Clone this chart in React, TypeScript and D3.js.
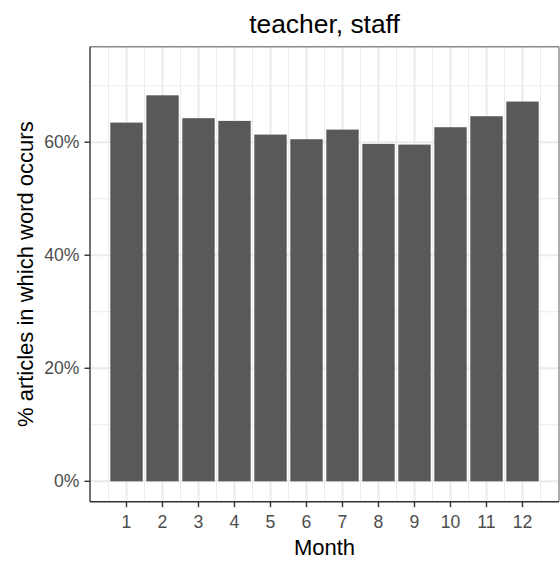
import React from "react";
import * as d3 from "d3";

const title = "teacher, staff";
const months = [1, 2, 3, 4, 5, 6, 7, 8, 9, 10, 11, 12];
const shares = [0.6347, 0.683, 0.6425, 0.6377, 0.6135, 0.6053, 0.6223, 0.597, 0.5958, 0.6265, 0.646, 0.6719];
const yTicks = [0, 0.2, 0.4, 0.6];
const yMinor = [0.1, 0.3, 0.5, 0.7];
const xMinor = [0.5, 1.5, 2.5, 3.5, 4.5, 5.5, 6.5, 7.5, 8.5, 9.5, 10.5, 11.5, 12.5];

const W = 560;
const H = 562;
const panel = { left: 90, right: 559, top: 46.7, bottom: 501.7 };
const FONT = "'Liberation Sans', Arial, sans-serif";

export default function App() {
  const x = d3.scaleLinear().domain([0, 13]).range([panel.left + 0.5, panel.right - 0.5]);
  const y = d3.scaleLinear().domain([-0.0361, 0.769]).range([panel.bottom, panel.top]);
  const barW = (x(1) - x(0)) * 0.9;
  const pct = d3.format(".0%");

  return (
    <svg width={W} height={H} style={{ position: "absolute", left: 0, top: 0, background: "#fff" }}>
      <rect x={0} y={0} width={W} height={H} fill="#fff" />
      {/* grid */}
      {yMinor.map((v) => (
        <line key={"ym" + v} x1={panel.left} x2={panel.right} y1={y(v)} y2={y(v)} stroke="#EBEBEB" strokeWidth={1} />
      ))}
      {xMinor.map((v) => (
        <line key={"xm" + v} x1={x(v)} x2={x(v)} y1={panel.top} y2={panel.bottom} stroke="#EBEBEB" strokeWidth={1} />
      ))}
      {yTicks.map((v) => (
        <line key={"yg" + v} x1={panel.left} x2={panel.right} y1={y(v)} y2={y(v)} stroke="#EBEBEB" strokeWidth={2} />
      ))}
      {months.map((m) => (
        <line key={"xg" + m} x1={x(m)} x2={x(m)} y1={panel.top} y2={panel.bottom} stroke="#EBEBEB" strokeWidth={2} />
      ))}
      {/* bars */}
      {months.map((m, i) => (
        <rect
          key={"b" + m}
          x={x(m) - barW / 2}
          width={barW}
          y={y(shares[i])}
          height={y(0) - y(shares[i])}
          fill="#595959"
        />
      ))}
      {/* panel border */}
      <line x1={panel.left} x2={panel.right} y1={panel.top} y2={panel.top} stroke="#8a8a8a" strokeWidth={1.4} />
      <line x1={panel.right} x2={panel.right} y1={panel.top} y2={panel.bottom} stroke="#8a8a8a" strokeWidth={1.4} />
      <line x1={panel.left} x2={panel.left} y1={panel.top} y2={panel.bottom} stroke="#333" strokeWidth={1.4} />
      <line x1={panel.left} x2={panel.right} y1={panel.bottom} y2={panel.bottom} stroke="#333" strokeWidth={1.4} />
      {/* y axis */}
      {yTicks.map((v) => (
        <g key={"yt" + v}>
          <line x1={panel.left - 5.5} x2={panel.left} y1={y(v)} y2={y(v)} stroke="#333" strokeWidth={1.4} />
          <text x={panel.left - 10.5} y={y(v)} dy="0.35em" textAnchor="end" fontFamily={FONT} fontSize={17.6} fill="#4D4D4D">
            {pct(v)}
          </text>
        </g>
      ))}
      {/* x axis */}
      {months.map((m) => (
        <g key={"xt" + m}>
          <line x1={x(m)} x2={x(m)} y1={panel.bottom} y2={panel.bottom + 5.5} stroke="#333" strokeWidth={1.4} />
          <text x={x(m)} y={527.5} textAnchor="middle" fontFamily={FONT} fontSize={17.6} fill="#4D4D4D">
            {m}
          </text>
        </g>
      ))}
      <text x={(panel.left + panel.right) / 2} y={555} textAnchor="middle" fontFamily={FONT} fontSize={22} fill="#000">
        Month
      </text>
      <text
        transform={`translate(33, ${(panel.top + panel.bottom) / 2}) rotate(-90)`}
        textAnchor="middle"
        fontFamily={FONT}
        fontSize={22}
        fill="#000"
      >
        % articles in which word occurs
      </text>
      <text x={(panel.left + panel.right) / 2} y={32.5} textAnchor="middle" fontFamily={FONT} fontSize={26.4} fill="#000">
        {title}
      </text>
    </svg>
  );
}
